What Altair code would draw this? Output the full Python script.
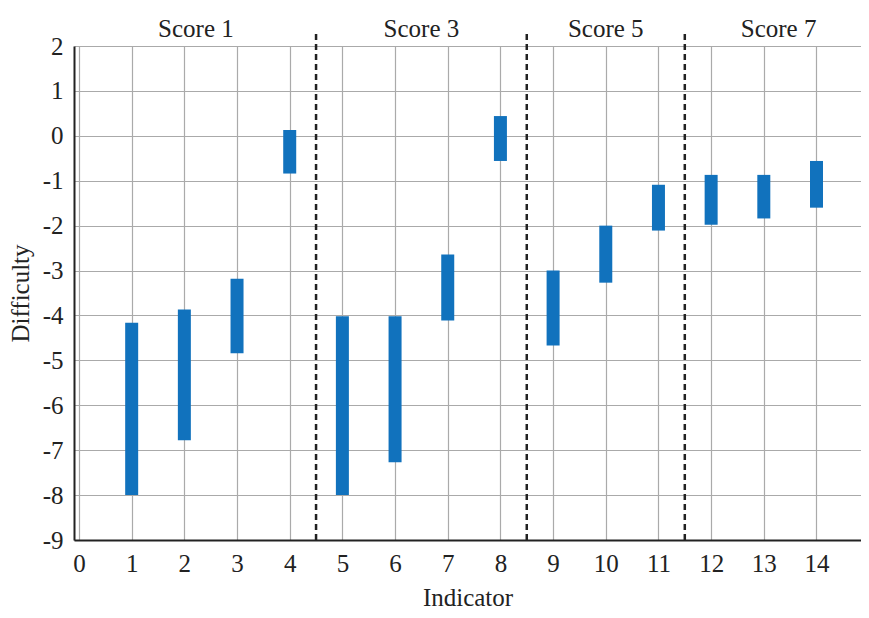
import altair as alt
import pandas as pd

indicators = [1, 2, 3, 4, 5, 6, 7, 8, 9, 10, 11, 12, 13, 14]
tops = [-4.16, -3.87, -3.18, 0.13, -4.02, -4.02, -2.64, 0.44, -3.0, -2.0, -1.09, -0.87, -0.87, -0.56]
bottoms = [-8.0, -6.78, -4.84, -0.84, -8.0, -7.27, -4.11, -0.56, -4.67, -3.27, -2.11, -1.98, -1.84, -1.6]

divider_x = [4.5, 8.5, 11.5]
score_labels = ["Score 1", "Score 3", "Score 5", "Score 7"]
score_label_x = [2.22, 6.5, 10.0, 13.28]

FONT = "Liberation Serif"
FS = 25

bars_df = pd.DataFrame({"Indicator": indicators, "top": tops, "bottom": bottoms})
div_df = pd.DataFrame({"x": divider_x, "y1": [-9] * 3, "y2": [2.3] * 3})
lab_df = pd.DataFrame({"x": score_label_x, "label": score_labels, "y": [2.2] * 4})

xscale = alt.Scale(domain=[0, 14.75], nice=False, zero=False)
yscale = alt.Scale(domain=[-9, 2], nice=False)

bars = alt.Chart(bars_df).mark_bar(size=13, color="#1172bd").encode(
    x=alt.X("Indicator:Q", scale=xscale,
            axis=alt.Axis(values=list(range(0, 15)), title="Indicator", labelFlush=True,
                          labelExpr="toString(datum.value)", grid=True)),
    y=alt.Y("bottom:Q", scale=yscale,
            axis=alt.Axis(values=list(range(-9, 3)), title="Difficulty",
                          labelExpr="toString(datum.value)")),
    y2="top:Q",
)

rules = alt.Chart(div_df).mark_rule(color="#222222", strokeWidth=2.5, strokeDash=[6, 4]).encode(
    x="x:Q", y="y1:Q", y2="y2:Q"
)

labels = alt.Chart(lab_df).mark_text(font=FONT, fontSize=FS, color="#222222", baseline="alphabetic").encode(
    x="x:Q", y="y:Q", text="label:N"
)

chart = alt.layer(bars, rules, labels).properties(
    width=853, height=602,
    autosize=alt.AutoSizeParams(type="fit", contains="padding"),
    padding={"left": 0, "top": 7, "right": 0, "bottom": 0},
).configure_view(stroke=None).configure_axis(
    labelFont=FONT, titleFont=FONT, labelFontSize=FS, titleFontSize=FS,
    labelColor="#222222", titleColor="#222222", titleFontWeight="normal",
    gridColor="#aaaaaa", gridWidth=1.2, domainColor="#222222", domainWidth=2,
    ticks=False,
).configure_axisX(domain=True, titlePadding=9, labelPadding=11).configure_axisY(
    domain=True, titlePadding=9, labelPadding=11)

chart.save("out.html", embed_options={"renderer": "svg", "actions": False})
